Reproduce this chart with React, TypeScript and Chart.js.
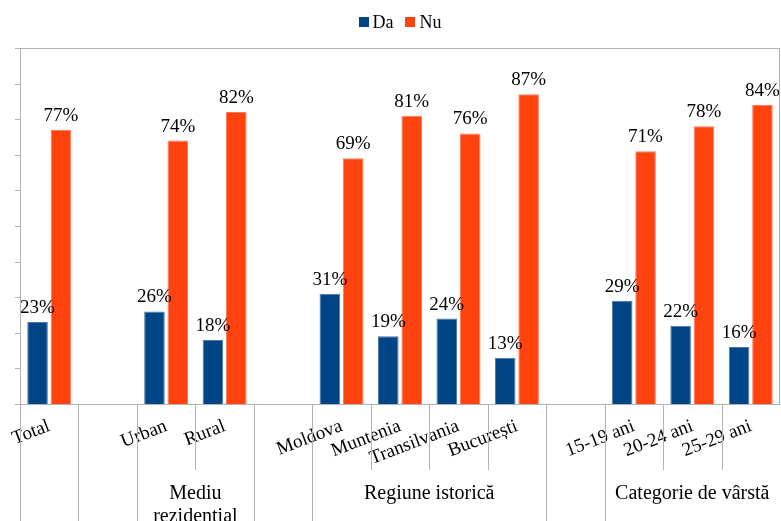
import React, { useEffect, useRef } from "react";
import { Chart, registerables } from "chart.js";

Chart.register(...registerables);

const categories = [
  "Total", "", "Urban", "Rural", "", "Moldova", "Muntenia", "Transilvania", "București", "", "15-19 ani", "20-24 ani", "25-29 ani",
];
const daValues = [23, null, 26, 18, null, 31, 19, 24, 13, null, 29, 22, 16];
const nuValues = [77, null, 74, 82, null, 69, 81, 76, 87, null, 71, 78, 84];
const seriesNames = ["Da", "Nu"];
const groupLabels = [
  { lines: ["Mediu", "rezidențial"], from: 2, to: 4 },
  { lines: ["Regiune istorică"], from: 5, to: 9 },
  { lines: ["Categorie de vârstă"], from: 10, to: 13 },
];
const longBoundaries = [0, 1, 2, 4, 5, 9, 10];
const shortBoundaries = [3, 6, 7, 8, 11, 12];

const SERIF = '"Liberation Serif", "DejaVu Serif", serif';
const LINE = "#b3b3b3";

const decorPlugin = {
  id: "decor",
  afterDatasetsDraw(chart: any) {
    const ctx = chart.ctx;
    ctx.save();
    ctx.fillStyle = "#000";
    ctx.font = `19px ${SERIF}`;
    ctx.textAlign = "center";
    ctx.textBaseline = "alphabetic";
    chart.data.datasets.forEach((ds: any, di: number) => {
      const meta = chart.getDatasetMeta(di);
      meta.data.forEach((el: any, i: number) => {
        const v = ds.data[i];
        if (v == null) return;
        ctx.fillText(`${v}%`, el.x, el.y - 9);
      });
    });
    ctx.restore();
  },
  afterDraw(chart: any) {
    const ctx = chart.ctx;
    const y = chart.scales.y;
    const area = chart.chartArea;
    const catW = (area.right - area.left) / categories.length;
    ctx.save();
    ctx.strokeStyle = LINE;
    ctx.lineWidth = 1;
    const px = (v: number) => Math.round(v) + 0.5;
    ctx.beginPath();
    ctx.moveTo(px(area.left), area.top);
    ctx.lineTo(px(area.left), area.bottom);
    for (let v = 0; v <= 100; v += 10) {
      const yy = px(y.getPixelForValue(v));
      ctx.moveTo(area.left - 5, yy);
      ctx.lineTo(area.left, yy);
    }
    const top = px(area.top);
    ctx.moveTo(area.left, top);
    ctx.lineTo(area.right, top);
    ctx.moveTo(px(area.right - 1), area.top);
    ctx.lineTo(px(area.right - 1), area.bottom);
    const bot = px(area.bottom);
    ctx.moveTo(area.left, bot);
    ctx.lineTo(area.right, bot);
    longBoundaries.forEach((b) => {
      const xx = px(area.left + b * catW);
      ctx.moveTo(xx, bot);
      ctx.lineTo(xx, chart.height);
    });
    shortBoundaries.forEach((b) => {
      const xx = px(area.left + b * catW);
      ctx.moveTo(xx, bot);
      ctx.lineTo(xx, 470);
    });
    ctx.stroke();

    ctx.fillStyle = "#000";
    ctx.font = `20px ${SERIF}`;
    ctx.textAlign = "center";
    ctx.textBaseline = "middle";
    groupLabels.forEach((g) => {
      const cx = area.left + ((g.from + g.to) / 2) * catW;
      g.lines.forEach((ln, li) => {
        ctx.fillText(ln, cx, 494 + li * 23);
      });
    });

    ctx.font = `18px ${SERIF}`;
    ctx.textAlign = "left";
    ctx.textBaseline = "alphabetic";
    const items = chart.data.datasets.map((ds: any) => ({
      label: ds.label,
      color: ds.backgroundColor,
      w: ctx.measureText(ds.label).width,
    }));
    const box = 10, gap = 4, itemGap = 12;
    let total = 0;
    items.forEach((it: any, i: number) => {
      total += box + gap + it.w + (i < items.length - 1 ? itemGap : 0);
    });
    let lx = (area.left + area.right) / 2 - total / 2;
    items.forEach((it: any) => {
      ctx.fillStyle = it.color;
      ctx.fillRect(Math.round(lx), 17, box, box);
      ctx.fillStyle = "#000";
      ctx.fillText(it.label, lx + box + gap, 28);
      lx += box + gap + it.w + itemGap;
    });
    ctx.restore();
  },
};

export default function App() {
  const ref = useRef<HTMLCanvasElement | null>(null);
  useEffect(() => {
    if (!ref.current) return;
    const chart = new Chart(ref.current, {
      type: "bar",
      data: {
        labels: categories,
        datasets: [
          {
            label: seriesNames[0],
            data: daValues,
            backgroundColor: "#004586",
            borderColor: "#4a78a8",
            borderWidth: 1,
            categoryPercentage: 0.8,
            barPercentage: 0.88,
          },
          {
            label: seriesNames[1],
            data: nuValues,
            backgroundColor: "#ff420e",
            borderColor: "#ff7a55",
            borderWidth: 1,
            categoryPercentage: 0.8,
            barPercentage: 0.88,
          },
        ],
      },
      options: {
        animation: false,
        responsive: false,
        maintainAspectRatio: false,
        devicePixelRatio: 1,
        layout: { padding: { top: 48, left: 0, right: 1, bottom: 0 } },
        plugins: {
          legend: { display: false },
          tooltip: { enabled: false },
        },
        scales: {
          x: {
            grid: { display: false },
            border: { display: false },
            ticks: {
              autoSkip: false,
              minRotation: 21,
              maxRotation: 21,
              padding: 3,
              color: "#000",
              font: { family: SERIF, size: 19 },
            },
            afterFit: (s: any) => {
              s.height = 117;
            },
          },
          y: {
            min: 0,
            max: 100,
            ticks: { display: false, stepSize: 10 },
            grid: { display: false },
            border: { display: false },
            afterFit: (s: any) => {
              s.width = 20;
            },
          },
        },
      },
      plugins: [decorPlugin],
    });
    return () => chart.destroy();
  }, []);
  return (
    <div style={{ position: "fixed", left: 0, top: 0, width: 781, height: 521, background: "#fff" }}>
      <canvas ref={ref} width={781} height={521} style={{ width: 781, height: 521, display: "block" }} />
    </div>
  );
}
